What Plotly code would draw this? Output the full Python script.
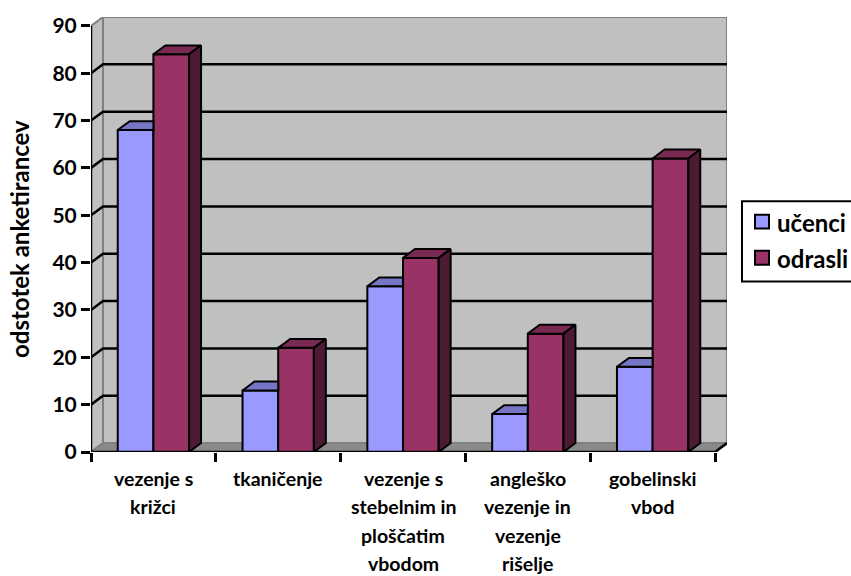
import plotly.graph_objects as go

categories = [
    ["vezenje s", "križci"],
    ["tkaničenje"],
    ["vezenje s", "stebelnim in", "ploščatim", "vbodom"],
    ["angleško", "vezenje in", "vezenje", "rišelje"],
    ["gobelinski", "vbod"],
]
series_names = ["učenci", "odrasli"]
ucenci = [68, 13, 35, 8, 18]
odrasli = [84, 22, 41, 25, 62]
y_ticks = [0, 10, 20, 30, 40, 50, 60, 70, 80, 90]
y_title = "odstotek anketirancev"

FONT = "Lato"
BLUE, BLUE_TOP = "#9999FF", "#7676C6"
RED, RED_TOP, RED_SIDE = "#993366", "#7A2952", "#4D1A33"
WALL, FLOOR, EDGE = "#C0C0C0", "#8A8A8A", "#808080"

# geometry (data units)
DX, DY = 0.096, 1.88          # depth offset of the 3D look
W = 1 / 3.5                   # bar width (gap width 150%)
YMAX = 90
n = len(categories)
XL, XR = -0.5, n - 0.5

# pixel layout of plot area
ML, MT, PW, PH = 91, 13, 636, 439


def pxp(x):
    return (x - ML) / PW


def pyp(y):
    return (MT + PH - y) / PH


fig = go.Figure()

# front faces
fig.add_trace(go.Bar(x=list(range(n)), y=ucenci, offset=-W, width=W, name=series_names[0],
                     marker=dict(color=BLUE, line=dict(color="black", width=2)), showlegend=False))
fig.add_trace(go.Bar(x=list(range(n)), y=odrasli, offset=0, width=W, name=series_names[1],
                     marker=dict(color=RED, line=dict(color="black", width=2)), showlegend=False))


def poly(xs, ys, color):
    fig.add_trace(go.Scatter(x=xs + [xs[0]], y=ys + [ys[0]], mode="lines", fill="toself",
                             fillcolor=color, line=dict(color="black", width=2),
                             hoverinfo="skip", showlegend=False))


for i in range(n):
    vb, vr = ucenci[i], odrasli[i]
    x0, x1, x2 = i - W, i, i + W
    # blue top (part hidden by the red bar is clipped)
    if vr >= vb + DY:
        poly([x0, x1, x1, x0 + DX], [vb, vb, vb + DY, vb + DY], BLUE_TOP)
    else:
        poly([x0, x1, x1 + DX, x0 + DX], [vb, vb, vb + DY, vb + DY], BLUE_TOP)
    # red top and side
    poly([x1, x2, x2 + DX, x1 + DX], [vr, vr, vr + DY, vr + DY], RED_TOP)
    poly([x2, x2, x2 + DX, x2 + DX], [0, vr, vr + DY, DY], RED_SIDE)

shapes = []
# back wall
shapes.append(dict(type="path", layer="below", xref="x", yref="y",
                   path=f"M{XL+DX},{DY} L{XR+DX},{DY} L{XR+DX},{YMAX+DY} L{XL+DX},{YMAX+DY} Z",
                   fillcolor=WALL, line=dict(color=EDGE, width=2)))
# side wall
shapes.append(dict(type="path", layer="below", xref="x", yref="y",
                   path=f"M{XL},0 L{XL},{YMAX} L{XL+DX},{YMAX+DY} L{XL+DX},{DY} Z",
                   fillcolor=WALL, line=dict(color=EDGE, width=2)))
# floor
shapes.append(dict(type="path", layer="below", xref="x", yref="y",
                   path=f"M{XL},0 L{XR},0 L{XR+DX},{DY} L{XL+DX},{DY} Z",
                   fillcolor=FLOOR, line=dict(color=EDGE, width=2)))
# gridlines
for v in y_ticks[1:-1]:
    shapes.append(dict(type="path", layer="below", xref="x", yref="y",
                       path=f"M{XL},{v} L{XL+DX},{v+DY} L{XR+DX},{v+DY}",
                       line=dict(color="black", width=2.5)))
# axis lines
shapes.append(dict(type="line", layer="above", xref="x", yref="y", x0=XL, x1=XL, y0=0, y1=YMAX,
                   line=dict(color="black", width=2.5)))
shapes.append(dict(type="path", layer="above", xref="x", yref="y",
                   path=f"M{XL},0 L{XR},0 L{XR+DX},{DY}", line=dict(color="black", width=2.5)))

# legend (custom, to match the original spacing)
shapes.append(dict(type="rect", xref="paper", yref="paper", x0=pxp(742), x1=pxp(880),
                   y0=pyp(280), y1=pyp(199), fillcolor="white", line=dict(color="black", width=2)))
legend_cols = [BLUE, RED]
legend_y = [219.5, 256]
annotations = []
for name, col, ly in zip(series_names, legend_cols, legend_y):
    shapes.append(dict(type="rect", xref="paper", yref="paper", x0=pxp(755), x1=pxp(769),
                       y0=pyp(ly + 7), y1=pyp(ly - 7), fillcolor=col,
                       line=dict(color="black", width=2)))
    annotations.append(dict(xref="paper", yref="paper", x=pxp(775), y=pyp(ly + 1), text=name,
                            xanchor="left", yanchor="middle", showarrow=False,
                            font=dict(family=FONT, size=24, color="black", weight="bold")))

# category labels (one annotation per line to reproduce the wide line spacing)
for i, lines in enumerate(categories):
    for k, line in enumerate(lines):
        annotations.append(dict(xref="x", yref="y", x=i, y=0, text=line, showarrow=False,
                                xanchor="center", yanchor="middle", yshift=-(26.5 + 28.3 * k),
                                borderpad=0,
                                font=dict(family=FONT, size=19.5, color="black", weight="bold")))

# y axis title
annotations.append(dict(xref="paper", yref="y", x=0, xshift=-71, y=45, text=y_title,
                        textangle=-90, showarrow=False, xanchor="center", yanchor="middle",
                        font=dict(family=FONT, size=24, color="black", weight="bold")))

fig.update_layout(
    width=851, height=576, autosize=False,
    margin=dict(l=ML, r=851 - ML - PW, t=MT, b=576 - MT - PH, pad=0),
    paper_bgcolor="white", plot_bgcolor="rgba(0,0,0,0)",
    barmode="overlay", showlegend=False,
    shapes=shapes, annotations=annotations,
    xaxis=dict(range=[XL, XR + DX], tickvals=[i - 0.5 for i in range(n + 1)],
               ticktext=[""] * (n + 1), ticks="outside", ticklen=9, tickwidth=2.5,
               tickcolor="black", showgrid=False, zeroline=False, showline=False,
               fixedrange=True),
    yaxis=dict(range=[0, YMAX + DY], tickvals=y_ticks, ticks="outside", ticklen=9,
               tickwidth=2.5, tickcolor="black", showgrid=False, zeroline=False,
               showline=False, fixedrange=True,
               tickfont=dict(family=FONT, size=21, color="black", weight="bold")),
)

fig.write_html("out.html", config={"displayModeBar": False},
               post_script="document.body.style.margin='0';document.body.style.overflow='hidden';")
